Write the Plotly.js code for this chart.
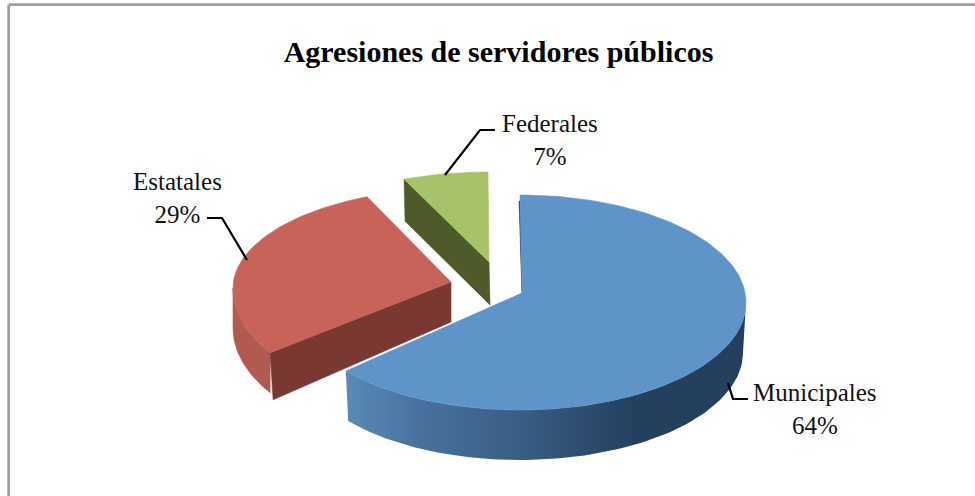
<!DOCTYPE html>
<html><head><meta charset="utf-8">
<script src="https://cdn.plot.ly/plotly-3.0.1.min.js"></script>
<style>html,body{margin:0;padding:0;background:#fff}#c{width:975px;height:496px}</style>
</head><body><div id="c"></div>
<script>
const chartTitle = "Agresiones de servidores públicos";
const categories = ["Municipales", "Estatales", "Federales"];
const shares = [64, 29, 7];
const topColors = ["#5E94C8", "#C8635A", "#A8C26A"];
const faceColors = ["#25405F", "#7A3832", "#4F5A2A"];

// Projected ellipse of each exploded slice (page px units, the axes span the page)
const geometry = [
  {cx:520, cy:302.5, rx:226, up:107.5, down:107.5, depth:50, apex:[522,293], nudgeA:0, nudgeB:0},
  {cx:459, cy:288,   rx:226, up:100,   down:118,   depth:47, apex:[451,282], nudgeA:6.3, nudgeB:1.2},
  {cx:488, cy:272,   rx:226, up:100,   down:100,   depth:42, apex:[489,262], nudgeA:3.4, nudgeB:0}
];

const rad = Math.PI/180;
function pt(g, deg, dy, shrink){
  const c = Math.cos(deg*rad);
  const ry = c > 0 ? g.up : g.down;
  return [g.cx + (g.rx-(shrink||0))*Math.sin(deg*rad), g.cy - ry*c + (dy||0)];
}
function arc(g, a, b, dy, shrink){
  const out = [];
  const n = Math.max(8, Math.round(Math.abs(b-a)/1.5));
  for(let i=0;i<=n;i++) out.push(pt(g, a+(b-a)*i/n, dy, shrink));
  return out;
}
const total = shares.reduce((s,v)=>s+v,0);
let run = 0;
const spans = shares.map((v,i)=>{
  const a = run/total*360; run += v; const b = run/total*360;
  return [a+geometry[i].nudgeA, b+geometry[i].nudgeB];
});
function poly(points, color, name, gradient){
  const t = {type:'scatter', mode:'lines', x:points.map(p=>p[0]), y:points.map(p=>p[1]),
    fill:'toself', line:{width:0.6,color:color}, fillcolor:color, name:name,
    hoverinfo:'name', showlegend:false};
  if(gradient){ t.fillgradient = gradient; t.line = {width:0}; }
  return t;
}
const traces = [];
// Estatales
{
  const g=geometry[1], [a,b]=spans[1];
  const outer=arc(g,a,270,0), outerB=arc(g,a,270,g.depth-7,0);
  traces.push(poly(outer.concat(outerB.slice().reverse()).concat([outer[0]]), "#B05A50", categories[1]));
  const c=pt(g,a);
  traces.push(poly([c,g.apex,[g.apex[0],g.apex[1]+g.depth-7],[c[0]+3,c[1]+g.depth],c],faceColors[1],categories[1]));
  traces.push(poly([g.apex].concat(arc(g,a,b)).concat([g.apex]),topColors[1],categories[1]));
}
// Federales
{
  const g=geometry[2], [a,b]=spans[2];
  const c=pt(g,a);
  traces.push(poly([c,g.apex,[g.apex[0]+1,g.apex[1]+g.depth+1],[c[0]+1,c[1]+g.depth],c],faceColors[2],categories[2]));
  traces.push(poly([g.apex].concat(arc(g,a,b)).concat([g.apex]),topColors[2],categories[2]));
}
// Municipales
{
  const g=geometry[0], [a,b]=spans[0];
  const e=arc(g,90,b,0), eB=arc(g,90,b,g.depth,3);
  traces.push(poly(e.concat(eB.slice().reverse()).concat([e[0]]),faceColors[0],categories[0],{
    type:'horizontal',
    colorscale:[[0,"#5A8AB8"],[0.2,"#47709A"],[0.42,"#3A5F86"],[0.72,"#25405F"],[1,"#25405F"]]
  }));
  const top=pt(g,0);
  traces.push(poly([[top[0]-1,top[1]+6],g.apex,[top[0],top[1]+6]],faceColors[0],categories[0]));
  traces.push(poly([g.apex].concat(arc(g,a,b)).concat([g.apex]),topColors[0],categories[0]));
}

const labelFont = {family:"Liberation Serif, serif", size:25, color:"#111"};
const labelPos = [[815,409],[177,198],[550,140]];
const annotations = categories.map((c,i)=>({
  xref:'x', yref:'y', x:labelPos[i][0], y:labelPos[i][1], text:c+"<br>"+shares[i]+"%",
  showarrow:false, font:labelFont, align:'center', xanchor:'center', yanchor:'middle'
}));
const leader = p => ({type:'path', xref:'x', yref:'y', path:p, line:{color:"#000",width:2.2}, layer:'above'});
const frame = (x0,y0,x1,y1) => ({type:'line', xref:'paper', yref:'paper', x0:x0/975, x1:x1/975, y0:1-y0/496, y1:1-y1/496,
   line:{color:"#9E9E9E",width:2.8}, layer:'below'});
const shapes = [
  frame(8.7,4.7,975,4.7),
  frame(8.7,4.7,8.7,496),
  leader("M445,175 L480,130 L495,130"),
  leader("M207,218 L222,218 L247,260"),
  leader("M728,383 L733,399 L748,399")
];
Plotly.newPlot('c', traces, {
  width:975, height:496, margin:{l:0,r:0,t:0,b:0}, showlegend:false,
  paper_bgcolor:"#fff", plot_bgcolor:"#fff",
  title:{text:"<b>"+chartTitle+"</b>", x:498.5/975, xanchor:'center', y:1-51.5/496, yanchor:'middle',
         font:{family:"Liberation Serif, serif", size:30, color:"#000"}},
  xaxis:{range:[0,975], visible:false, fixedrange:true},
  yaxis:{range:[496,0], visible:false, fixedrange:true},
  annotations:annotations, shapes:shapes
}, {displayModeBar:false, staticPlot:true});
</script></body></html>
